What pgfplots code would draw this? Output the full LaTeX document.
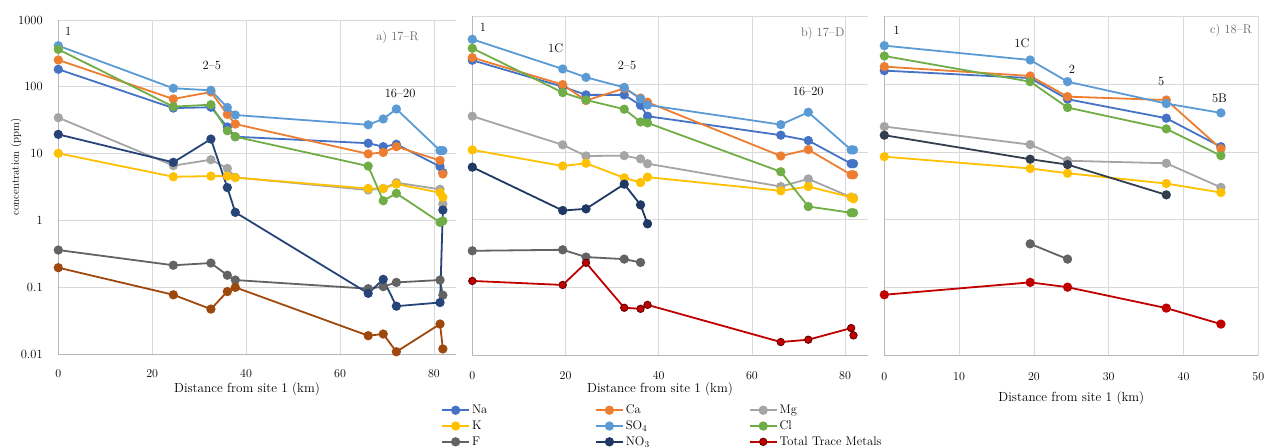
\documentclass[border=0pt]{standalone}
\usepackage{fontspec}
\usepackage{pgfplots}
\pgfplotsset{compat=1.18}
\definecolor{cNa}{HTML}{4472C4}
\definecolor{cCa}{HTML}{ED7D31}
\definecolor{cMg}{HTML}{A5A5A5}
\definecolor{cK}{HTML}{FFC000}
\definecolor{cSO}{HTML}{5B9BD5}
\definecolor{cCl}{HTML}{70AD47}
\definecolor{cF}{HTML}{636363}
\definecolor{cNOa}{HTML}{264478}
\definecolor{cNOb}{HTML}{1F3864}
\definecolor{cNOc}{HTML}{333F4F}
\definecolor{cTa}{HTML}{9E480E}
\definecolor{cTb}{HTML}{C00000}
\definecolor{cGrid}{HTML}{D9D9D9}
\newcommand{\chartfont}{\fontsize{12.5}{15}\selectfont}
\newcommand{\labfont}{\fontsize{13.2}{15}\selectfont}
\newcommand{\ylabfont}{\fontsize{11}{13}\selectfont}
\pgfplotsset{
  myser/.style={color=#1, line width=1.8pt, mark=*, mark size=3.7pt, mark options={solid, fill=#1}},
}
\begin{document}
\begin{tikzpicture}
\path[use as bounding box] (0pt,0pt) rectangle (1269pt,447pt);
% ---------------- panel a
\begin{axis}[scale only axis, ymode=log, ymin=0.01, ymax=1000, xmin=0,
    grid=major, major grid style={draw=cGrid, line width=0.7pt},
    axis x line=bottom, axis y line=left,
    axis line style={draw=black!28, line width=0.8pt, -},
    tick style={draw=none}, yminorticks=false,
    ytick={0.01,0.1,1,10,100,1000},
    font=\chartfont, clip=false,
    xticklabel style={yshift=-10pt},
    yticklabel style={xshift=-10pt},
    xlabel={Distance from site 1 (km)},
  at={(58.3pt,93pt)}, anchor=south west, width=397.7pt, height=334pt,
  xmax=84.7, xtick={0,20,40,60,80},
  yticklabels={0.01,0.1,1,10,100,1000},
  ylabel={concentration (ppm)},
  every axis y label/.style={at={(axis description cs:-0.106,0.56)}, rotate=90, anchor=center, font=\ylabfont},
  every axis x label/.style={at={(axis description cs:0.4745,-0.1048)}, anchor=center, font=\labfont}]
\addplot[myser=cNa] coordinates {(0,183) (24.5,48) (32.5,49.4) (36,25) (37.7,17.9) (66,14.3) (69.2,12.7) (72,13.8) (81.3,6.4) (81.9,5.2)};
\addplot[myser=cCa] coordinates {(0,252) (24.5,65.7) (32.5,83.6) (36,38.7) (37.7,27.7) (66,9.9) (69.2,10.4) (72,12.7) (81.3,7.9) (81.9,4.95)};
\addplot[myser=cMg] coordinates {(0,34.5) (24.5,6.6) (32.5,8.1) (36,6.0) (37.7,4.4) (66,2.85) (69.2,3.0) (72,3.67) (81.3,2.92) (81.9,1.76)};
\addplot[myser=cK] coordinates {(0,10.1) (24.5,4.5) (32.5,4.6) (36,4.6) (37.7,4.37) (66,3.0) (69.2,3.0) (72,3.5) (81.3,2.6) (81.9,2.22)};
\addplot[myser=cSO] coordinates {(0,412) (24.5,95) (32.5,88.6) (36,49) (37.7,37.8) (66,27) (69.2,33) (72,46.5) (81.3,11.1) (81.9,11.1)};
\addplot[myser=cCl] coordinates {(0,364) (24.5,50.4) (32.5,54) (36,22) (37.7,17.9) (66,6.5) (69.2,1.97) (72,2.54) (81.3,0.935) (81.9,0.98)};
\addplot[myser=cF] coordinates {(0,0.36) (24.5,0.213) (32.5,0.23) (36,0.151) (37.7,0.128) (66,0.095) (69.2,0.102) (72,0.118) (81.3,0.128) (81.9,0.076)};
\addplot[myser=cNOa] coordinates {(0,19.4) (24.5,7.4) (32.5,16.5) (36,3.1) (37.7,1.32) (66,0.081) (69.2,0.131) (72,0.052) (81.3,0.059) (81.9,1.43)};
\addplot[myser=cTa] coordinates {(0,0.196) (24.5,0.077) (32.5,0.047) (36,0.086) (37.7,0.0995) (66,0.0188) (69.2,0.0199) (72,0.0108) (81.3,0.0281) (81.9,0.0119)};
\node at (axis cs:2.1,683) {1};
\node at (axis cs:32.7,205) {2–5};
\node at (axis cs:72.8,80.7) {16–20};
\node[anchor=east, text=black!60] at (axis cs:77.5,556) {a) 17–R};
\end{axis}
% ---------------- panel b
\begin{axis}[scale only axis, ymode=log, ymin=0.01, ymax=1000, xmin=0,
    grid=major, major grid style={draw=cGrid, line width=0.7pt},
    axis x line=bottom, axis y line=left,
    axis line style={draw=black!28, line width=0.8pt, -},
    tick style={draw=none}, yminorticks=false,
    ytick={0.01,0.1,1,10,100,1000},
    font=\chartfont, clip=false,
    xticklabel style={yshift=-10pt},
    xlabel={Distance from site 1 (km)},
  at={(472.3pt,91.3pt)}, anchor=south west, width=395.4pt, height=339.7pt,
  xmax=84.85, xtick={0,20,40,60,80}, yticklabels={},
  every axis x label/.style={at={(axis description cs:0.4747,-0.098)}, anchor=center, font=\labfont},
  legend image code/.code={\draw[mark repeat=2,mark phase=2,#1] plot coordinates {(0pt,0pt) (13.5pt,0pt) (27pt,0pt)};},
  legend columns=3, legend cell align=left,
  legend style={at={(-0.0867,-0.133)}, anchor=north west, draw=none, fill=none, font=\chartfont,
    nodes={text width=121pt, inner sep=2pt}, row sep=1.5pt,
    /tikz/every even column/.append style={column sep=0pt}}]
\addplot[myser=cNa] coordinates {(0,223) (19.4,91) (24.4,69) (32.6,69) (36.1,48.6) (37.6,33.5) (66.2,17.6) (72.1,14.7) (81.3,6.7) (81.8,6.7)};
\addlegendentry{Na}
\addplot[myser=cCa] coordinates {(0,244) (19.4,97.7) (24.4,57) (32.6,86) (36.1,62) (37.6,53.8) (66.2,8.7) (72.1,10.8) (81.3,4.6) (81.8,4.6)};
\addlegendentry{Ca}
\addplot[myser=cMg] coordinates {(0,33.5) (19.4,12.7) (24.4,8.7) (32.6,8.8) (36.1,7.9) (37.6,6.7) (66.2,3.09) (72.1,4.0) (81.3,2.15) (81.8,2.1)};
\addlegendentry{Mg}
\addplot[myser=cK] coordinates {(0,10.7) (19.4,6.2) (24.4,6.8) (32.6,4.15) (36.1,3.54) (37.6,4.25) (66.2,2.67) (72.1,3.09) (81.3,2.15) (81.8,2.04)};
\addlegendentry{K}
\addplot[myser=cSO] coordinates {(0,454) (19.4,166) (24.4,125) (32.6,89) (36.1,60) (37.6,49) (66.2,25.2) (72.1,38.3) (81.3,10.7) (81.8,10.7)};
\addlegendentry{SO$_4$}
\addplot[myser=cCl] coordinates {(0,335) (19.4,74.6) (24.4,58) (32.6,42.5) (36.1,27.6) (37.6,26.7) (66.2,5.1) (72.1,1.57) (81.3,1.27) (81.8,1.27)};
\addlegendentry{Cl}
\addplot[myser=cF] coordinates {(0,0.35) (19.4,0.362) (24.4,0.283) (32.6,0.264) (36.1,0.236)};
\addlegendentry{F}
\addplot[myser=cNOb] coordinates {(0,5.96) (19.4,1.37) (24.4,1.45) (32.6,3.35) (36.1,1.66) (37.6,0.873)};
\addlegendentry{NO$_3$}
\addplot[myser=cTb, mark options={draw=black!45!cTb, line width=0.9pt}] coordinates {(0,0.126) (19.4,0.11) (24.4,0.233) (32.6,0.0508) (36.1,0.049) (37.6,0.056) (66.2,0.0159) (72.1,0.0172) (81.3,0.0255) (81.8,0.0199)};
\addlegendentry{Total Trace Metals}
\node at (axis cs:2.3,689) {1};
\node at (axis cs:17.9,338) {1C};
\node at (axis cs:33.2,184) {2–5};
\node at (axis cs:72.1,77) {16–20};
\node[anchor=east, text=black!60] at (axis cs:80.6,550) {b) 17–D};
\end{axis}
% ---------------- panel c
\begin{axis}[scale only axis, ymode=log, ymin=0.01, ymax=1000, xmin=0,
    grid=major, major grid style={draw=cGrid, line width=0.7pt},
    axis x line=bottom, axis y line=left,
    axis line style={draw=black!28, line width=0.8pt, -},
    tick style={draw=none}, yminorticks=false,
    ytick={0.01,0.1,1,10,100,1000},
    font=\chartfont, clip=false,
    xlabel={Distance from site 1 (km)},
  at={(884.3pt,91.3pt)}, anchor=south west, width=374pt, height=339.7pt,
  xmax=50, xtick={0,10,20,30,40,50}, yticklabels={},
  xticklabel style={yshift=-11.7pt},
  every axis x label/.style={at={(axis description cs:0.5,-0.1245)}, anchor=center, font=\labfont}]
\addplot[myser=cNa] coordinates {(0,157) (19.5,122) (24.5,59.6) (37.7,31.3) (45,11.9)};
\addplot[myser=cCa] coordinates {(0,180) (19.5,131) (24.5,65) (37.7,58) (45,11.1)};
\addplot[myser=cMg] coordinates {(0,23.6) (19.5,12.8) (24.5,7.4) (37.7,6.8) (45,3.0)};
\addplot[myser=cK] coordinates {(0,8.5) (19.5,5.7) (24.5,4.85) (37.7,3.42) (45,2.52)};
\addplot[myser=cSO] coordinates {(0,366) (19.5,225) (24.5,108) (37.7,51.4) (45,37.5)};
\addplot[myser=cCl] coordinates {(0,258) (19.5,108) (24.5,44.9) (37.7,21.8) (45,8.8)};
\addplot[myser=cF] coordinates {(19.5,0.443) (24.5,0.264)};
\addplot[myser=cNOc] coordinates {(0,17.6) (19.5,7.8) (24.5,6.5) (37.7,2.33)};
\addplot[myser=cTb] coordinates {(0,0.0789) (19.5,0.12) (24.5,0.102) (37.7,0.0502) (45,0.0292)};
\node at (axis cs:1.66,623) {1};
\node at (axis cs:18.4,396) {1C};
\node at (axis cs:25.1,166) {2};
\node at (axis cs:37.0,108) {5};
\node at (axis cs:44.8,61.7) {5B};
\node[anchor=east, text=black!60] at (axis cs:49.6,608) {c) 18–R};
\end{axis}
\end{tikzpicture}
\end{document}
